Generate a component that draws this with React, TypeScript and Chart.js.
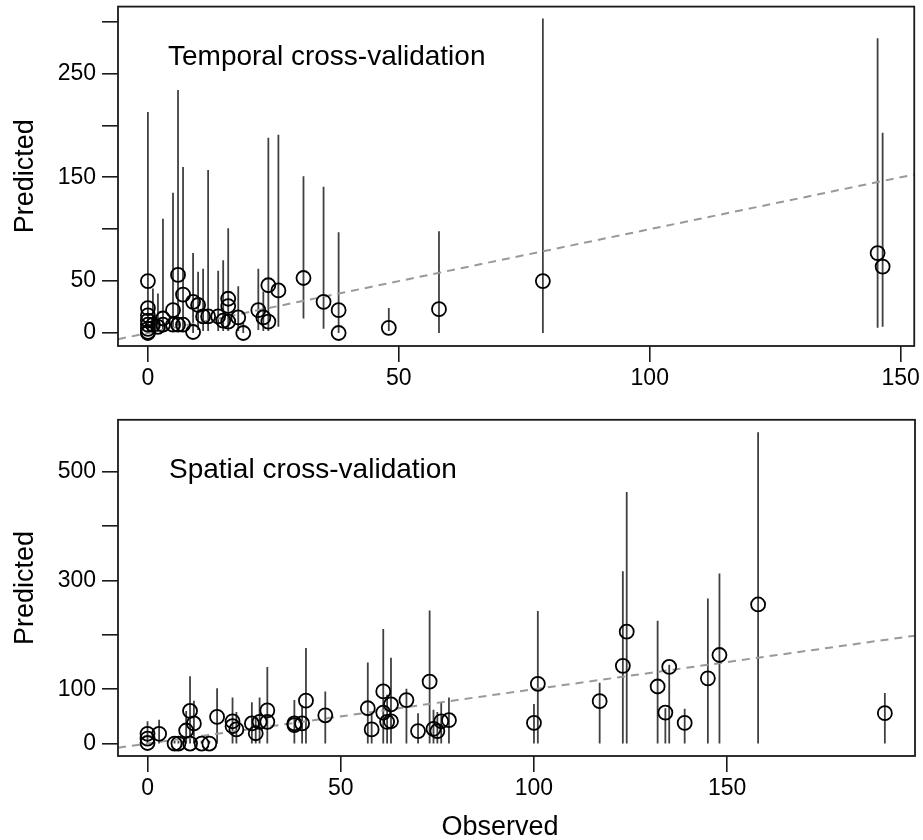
import React, { useEffect, useRef } from "react";
import { Chart, registerables } from "chart.js";

Chart.register(...registerables);

const FONT = "'Liberation Sans', Arial, Helvetica, sans-serif";

// ---------- Temporal cross-validation ----------
const tObs = [0, 0, 0, 0, 0, 0, 0, 0, 1, 2, 3, 3, 5, 5, 6, 6, 7, 7, 9, 9, 10, 11, 12, 14, 15, 16, 16, 16, 18, 19, 22, 23, 24, 24, 26, 31, 35, 38, 38, 48, 58, 78.7, 145.4, 146.4];
const tPred = [50, 24, 17, 12, 8, 4, 1, 0, 8, 6, 14, 8, 22, 8, 56, 8, 37, 8, 30, 1, 27, 16, 16, 16, 12, 33, 26, 11, 15, 0, 22, 15, 46, 11, 41, 53, 30, 22, 0, 5, 23, 50, 77, 64];
const tLo = [0, 0, 0, 0, 0, 0, 0, 0, 1, 1, 2, 2, 2, 2, 3, 2, 3, 2, 3, 0, 3, 2, 2, 2, 2, 3, 3, 2, 2, 0, 3, 2, 5, 2, 6, 14, 4, 3, 0, 2, 0, 0, 5, 6];
const tHi = [213, 106, 60, 45, 30, 20, 12, 8, 43, 38, 110, 65, 135, 103, 234, 40, 160, 50, 77, 20, 59, 62, 157, 60, 70, 101, 60, 40, 45, 10, 62, 40, 188, 40, 191, 151, 141, 97, 50, 24, 98, 303, 284, 193];
const tXTicks = [0, 50, 100, 150];
const tYTicks = [0, 50, 100, 150, 200, 250, 300];
const tYLabels = [0, 50, 150, 250];

// ---------- Spatial cross-validation ----------
const sObs = [0, 0, 0, 3, 7, 8, 10, 11, 11, 12, 14, 16, 18, 22, 22, 23, 27, 28, 29, 31, 31, 38, 38, 40, 41, 46, 57, 58, 61, 61, 62, 63, 63, 67, 70, 73, 74, 75, 76, 78, 100, 101, 117, 123, 124, 132, 134, 135, 139, 145, 148, 158, 190.8];
const sPred = [18, 9, 1, 18, 0, 0, 24, 60, 0, 37, 0, 0, 49, 41, 32, 26, 37, 19, 40, 61, 40, 37, 34, 37, 79, 52, 65, 26, 96, 57, 40, 72, 41, 80, 23, 114, 27, 23, 41, 43, 38, 110, 78, 143, 206, 105, 57, 141, 38, 120, 163, 256, 56];
const sLo = [0, 0, 0, 0, 0, 0, 0, 0, 0, 0, 0, 0, 0, 0, 0, 0, 0, 0, 0, 0, 0, 0, 0, 0, 0, 0, 0, 0, 0, 0, 0, 0, 0, 0, 0, 0, 0, 0, 0, 0, 0, 0, 0, 0, 0, 0, 0, 0, 0, 0, 0, 0, 0];
const sHi = [41, 30, 20, 44, 5, 5, 60, 124, 10, 79, 5, 5, 102, 85, 70, 58, 76, 50, 85, 141, 90, 80, 60, 70, 176, 96, 149, 56, 211, 120, 90, 158, 90, 101, 56, 245, 62, 58, 76, 85, 73, 244, 112, 317, 463, 226, 65, 145, 64, 267, 313, 573, 93];
const sXTicks = [0, 50, 100, 150];
const sYTicks = [0, 100, 200, 300, 400, 500];
const sYLabels = [0, 100, 300, 500];

type PanelCfg = {
  obs: number[];
  pred: number[];
  lo: number[];
  hi: number[];
  xMin: number;
  xMax: number;
  yMin: number;
  yMax: number;
  xTicks: number[];
  yTicks: number[];
  yLabels: number[];
  title: string;
  titleX: number;
  titleY: number;
  padTop: number;
  padRight: number;
  xAxisH: number;
  xLabel?: string;
  xLabelX?: number;
  xLabelY?: number;
};

function buildChart(canvas: HTMLCanvasElement, c: PanelCfg) {
  const segs: any[] = [];
  c.obs.forEach((o, i) => {
    segs.push({ x: o, y: c.lo[i] });
    segs.push({ x: o, y: c.hi[i] });
    segs.push({ x: o, y: null });
  });
  const pts = c.obs.map((o, i) => ({ x: o, y: c.pred[i] }));
  const diag = [
    { x: c.xMin, y: c.xMin },
    { x: c.xMax, y: c.xMax },
  ];

  const framePlugin = {
    id: "rframe",
    afterDraw(chart: any) {
      const ctx = chart.ctx;
      const a = chart.chartArea;
      ctx.save();
      ctx.strokeStyle = "#1a1a1a";
      ctx.lineWidth = 1.8;
      ctx.strokeRect(a.left, a.top, a.right - a.left, a.bottom - a.top);
      ctx.fillStyle = "#000";
      ctx.font = `28px ${FONT}`;
      ctx.textAlign = "left";
      ctx.textBaseline = "alphabetic";
      ctx.fillText(c.title, c.titleX, c.titleY);
      ctx.font = `27px ${FONT}`;
      ctx.save();
      ctx.translate(33, (a.top + a.bottom) / 2);
      ctx.rotate(-Math.PI / 2);
      ctx.textAlign = "center";
      ctx.textBaseline = "alphabetic";
      ctx.fillText("Predicted", 0, 0);
      ctx.restore();
      if (c.xLabel) {
        ctx.textAlign = "center";
        ctx.textBaseline = "middle";
        ctx.fillText(c.xLabel, c.xLabelX as number, c.xLabelY as number);
      }
      ctx.restore();
    },
  };

  const tickFont = { family: FONT, size: 23 };
  const yTickFont = (sctx: any) => {
    const v = sctx && sctx.tick ? Number(sctx.tick.value) : 0;
    return { family: FONT, size: c.yLabels.includes(v) ? 23 : 1 };
  };
  return new Chart(canvas, {
    type: "scatter",
    data: {
      datasets: [
        {
          data: pts,
          pointStyle: "circle",
          pointRadius: 7,
          pointBorderWidth: 1.8,
          pointBackgroundColor: "rgba(0,0,0,0)",
          pointBorderColor: "#000",
          showLine: false,
        } as any,
        {
          data: diag,
          showLine: true,
          pointRadius: 0,
          borderColor: "#999999",
          borderWidth: 2,
          borderDash: [8, 6],
        } as any,
        {
          data: segs,
          showLine: true,
          spanGaps: false,
          pointRadius: 0,
          borderColor: "#404040",
          borderWidth: 1.8,
        } as any,
      ],
    },
    options: {
      animation: false,
      responsive: false,
      devicePixelRatio: 1,
      layout: { autoPadding: false, padding: { top: c.padTop, right: c.padRight, left: 0, bottom: 0 } },
      plugins: { legend: { display: false }, tooltip: { enabled: false } },
      scales: {
        x: {
          type: "linear",
          min: c.xMin,
          max: c.xMax,
          afterBuildTicks: (axis: any) => {
            axis.ticks = c.xTicks.map((v) => ({ value: v }));
          },
          afterFit: (axis: any) => {
            axis.height = c.xAxisH;
          },
          ticks: {
            autoSkip: false,
            maxRotation: 0,
            font: tickFont,
            color: "#000",
            padding: 3,
            callback: (v: any) => String(v),
          },
          grid: {
            display: true,
            drawOnChartArea: false,
            drawTicks: true,
            tickLength: 16,
            color: "#1a1a1a",
            lineWidth: 1.6,
          },
          border: { display: false },
        },
        y: {
          type: "linear",
          min: c.yMin,
          max: c.yMax,
          afterBuildTicks: (axis: any) => {
            axis.ticks = c.yTicks.map((v) => ({ value: v }));
          },
          afterFit: (axis: any) => {
            axis.width = 118;
          },
          ticks: {
            autoSkip: false,
            font: yTickFont,
            color: "#000",
            padding: 6,
            callback: (v: any) => (c.yLabels.includes(Number(v)) ? String(v) : ""),
          },
          grid: {
            display: true,
            drawOnChartArea: false,
            drawTicks: true,
            tickLength: 16,
            color: "#1a1a1a",
            lineWidth: 1.6,
          },
          border: { display: false },
        },
      },
    } as any,
    plugins: [framePlugin],
  });
}

export default function App() {
  const topRef = useRef<HTMLCanvasElement | null>(null);
  const botRef = useRef<HTMLCanvasElement | null>(null);

  useEffect(() => {
    const c1 = buildChart(topRef.current as HTMLCanvasElement, {
      obs: tObs,
      pred: tPred,
      lo: tLo,
      hi: tHi,
      xMin: -5.96,
      xMax: 152.7,
      yMin: -12.5,
      yMax: 314.4,
      xTicks: tXTicks,
      yTicks: tYTicks,
      yLabels: tYLabels,
      title: "Temporal cross-validation",
      titleX: 168,
      titleY: 65,
      padTop: 6,
      padRight: 7,
      xAxisH: 54,
    });
    const c2 = buildChart(botRef.current as HTMLCanvasElement, {
      obs: sObs,
      pred: sPred,
      lo: sLo,
      hi: sHi,
      xMin: -7.64,
      xMax: 198.6,
      yMin: -22.9,
      yMax: 595.9,
      xTicks: sXTicks,
      yTicks: sYTicks,
      yLabels: sYLabels,
      title: "Spatial cross-validation",
      titleX: 169,
      titleY: 78,
      padTop: 18,
      padRight: 8,
      xAxisH: 84,
      xLabel: "Observed",
      xLabelX: 500,
      xLabelY: 428,
    });
    return () => {
      c1.destroy();
      c2.destroy();
    };
  }, []);

  return (
    <div style={{ position: "absolute", left: 0, top: 0, width: 923, height: 840, background: "#fff" }}>
      <canvas ref={topRef} width={923} height={400} style={{ display: "block", width: 923, height: 400 }} />
      <canvas ref={botRef} width={923} height={440} style={{ display: "block", width: 923, height: 440 }} />
    </div>
  );
}
